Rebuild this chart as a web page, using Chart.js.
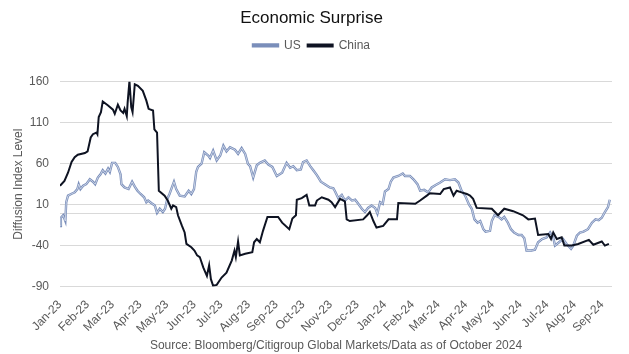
<!DOCTYPE html>
<html>
<head>
<meta charset="utf-8">
<script src="https://cdn.jsdelivr.net/npm/chart.js@4.4.1/dist/chart.umd.min.js"></script>
<style>
  html, body { margin: 0; padding: 0; background: #fff; }
  #wrap { width: 629px; height: 354px; }
</style>
</head>
<body>
<div id="wrap"><canvas id="chart"></canvas></div>
<script>
// month tick labels, first one is Jan 2023
var months = ['Jan-23', 'Feb-23', 'Mar-23', 'Apr-23', 'May-23', 'Jun-23', 'Jul-23', 'Aug-23', 'Sep-23', 'Oct-23',
  'Nov-23', 'Dec-23', 'Jan-24', 'Feb-24', 'Mar-24', 'Apr-24', 'May-24', 'Jun-24', 'Jul-24', 'Aug-24', 'Sep-24'];

// days since 1 Jan 2023
var chinaDay = [0, 5, 9, 13, 16.5, 20, 28, 31, 34.5, 37, 41, 42, 43.5, 46, 48, 54, 59.5, 61.5, 65, 68,
  71, 72.5, 75, 76, 78, 80, 81.5, 84, 87.5, 93, 97, 99.5, 104.5, 106, 109, 111, 117.5, 121, 125, 127,
  130.5, 132.5, 137, 140, 142, 147.5, 151, 154, 157, 161, 165, 167.5, 169.5, 172, 176, 181.5, 187, 193, 196, 197.5,
  200, 202, 208, 216, 218, 221, 224.5, 228, 233, 245, 249.5, 257.5, 261, 265, 266, 271.5, 277, 280, 286.5, 288.5,
  294, 301.5, 305, 309, 314.5, 320, 322, 325.5, 340.5, 345, 348, 352, 355.5, 363, 369, 378.5, 380, 399, 404.5, 412,
  415.5, 427, 431, 438, 442, 445.5, 451, 457, 460.5, 464, 468, 485, 492, 499, 509, 520, 526, 533.5, 537, 548.5,
  551.5, 554, 558, 563.5, 566.5, 575, 582, 594, 599, 608.5, 612, 616.5];
var chinaVal = [33, 39, 49, 62, 68, 71, 73, 75, 92, 96, 98, 96, 117, 123, 136, 131, 126, 121, 132, 125,
  122, 127, 118, 135, 161, 129, 123, 157, 155, 149, 137, 127, 125, 102, 98, 27, 21, 15, 5, 9,
  7, -3, -16, -24, -38, -42, -46, -52, -54, -67, -77, -64, -81, -89, -88, -79, -73, -58, -46, -54,
  -35, -52, -50, -48, -36, -32, -36, -22, -5, -5, -12, -20, -7, -3, 16, 18, 22, 9, 9, 15,
  19, 16, 13, 7, 17, 14, -8, -10, -8, -3, 1, -10, -18, -16, -8, -8, 12, 11, 15, 21,
  24, 23, 29, 31, 21, 27, 25, 23, 21, 17, 6, 5, -3, 5, 2, -3, -8, -7, -27, -26,
  -32, -24, -32, -30, -40, -40, -38, -33, -39, -35, -40, -38];

var usDay = [0, 1, 3.5, 6, 7, 9, 12.5, 16.5, 19.5, 21, 23, 26, 29.5, 33.5, 37, 39.5, 42.5, 45.5, 48, 51,
  54, 56, 58.5, 62, 65, 68, 69, 72.5, 77, 81, 84, 87, 90.5, 94.5, 97, 99, 102.5, 106.5, 109, 112,
  115.5, 118, 120.5, 123, 128, 130.5, 134.5, 140, 144.5, 147.5, 150.5, 153, 155, 159, 162, 166.5, 168.5, 172, 176, 180,
  183.5, 187, 191, 196.5, 200, 204, 208, 211, 213.5, 217, 221, 224.5, 230, 234, 238.5, 243.5, 249.5, 254.5, 258.5, 262,
  266, 270.5, 273, 277, 281, 284.5, 288.5, 293, 297.5, 303, 307, 309, 312.5, 316.5, 320, 324, 328, 331.5, 335, 339,
  342.5, 346, 350, 354, 356.5, 359.5, 362.5, 365, 369, 371.5, 374.5, 380, 385, 387.5, 393, 397, 401.5, 404.5, 409, 413.5,
  417.5, 422, 427, 432.5, 438, 443.5, 447.5, 451, 455, 459.5, 462.5, 465.5, 469, 472, 475.5, 478, 483, 485, 488, 492.5,
  496, 499, 503, 506.5, 510, 515, 518.5, 521.5, 524, 529.5, 533.5, 537, 541.5, 546.5, 550.5, 554, 556, 560.5, 565, 569,
  574, 576.5, 580.5, 584, 588, 593, 597.5, 601.5, 605, 608.5, 612, 615.5, 617.5];
var usVal = [-16, -6, -3, -10, 13, 21, 23, 25, 29, 35, 29, 33, 35, 41, 38, 35, 43, 47, 52, 48,
  54, 50, 61, 61, 56, 47, 35, 31, 29, 38, 32, 27, 23, 19, 13, 15, 12, 9, 0, 5,
  1, 5, 17, 23, 38, 29, 21, 20, 27, 23, 29, 50, 56, 60, 74, 70, 67, 76, 64, 70,
  82, 75, 80, 77, 72, 79, 72, 60, 57, 43, 58, 61, 64, 59, 56, 45, 49, 61, 55, 57,
  52, 53, 62, 64, 57, 52, 46, 38, 35, 31, 30, 26, 18, 22, 15, 19, 15, 16, 11, 5,
  1, 6, 9, 6, -1, 13, 11, 26, 29, 38, 43, 45, 48, 45, 45, 41, 35, 27, 28, 25,
  31, 34, 37, 41, 40, 41, 37, 27, 21, 10, 5, -8, -12, -10, -20, -23, -22, -10, -3, -5,
  -8, -5, -12, -20, -24, -27, -27, -31, -46, -46, -45, -36, -32, -30, -24, -30, -40, -36, -32, -38,
  -44, -40, -28, -24, -23, -20, -12, -8, -9, -6, 1, 7, 16];

var sourceText = 'Source: Bloomberg/Citigroup Global Markets/Data as of October 2024';

var FONT = "'Liberation Sans', Arial, sans-serif";
var GREY = '#595959';
var GRID = '#d9d9d9';

function monthDay(i) {
  return (Date.UTC(2023, i, 1) - Date.UTC(2023, 0, 1)) / 864e5;
}

function pairs(days, vals) {
  return days.map(function (d, i) { return { x: d, y: vals[i] }; });
}

// grey line at zero, Excel style
var zeroLine = {
  id: 'zeroLine',
  beforeDatasetsDraw: function (chart) {
    var y = chart.scales.y.getPixelForValue(0);
    var a = chart.chartArea;
    var ctx = chart.ctx;
    ctx.save();
    ctx.strokeStyle = GRID;
    ctx.lineWidth = 1;
    ctx.beginPath();
    ctx.moveTo(a.left, Math.round(y) + 0.5);
    ctx.lineTo(a.right, Math.round(y) + 0.5);
    ctx.stroke();
    ctx.restore();
  }
};

var sourceNote = {
  id: 'sourceNote',
  afterDraw: function (chart) {
    var a = chart.chartArea;
    var ctx = chart.ctx;
    ctx.save();
    ctx.font = '12px ' + FONT;
    ctx.fillStyle = GREY;
    ctx.textAlign = 'center';
    ctx.textBaseline = 'middle';
    ctx.fillText(sourceText, (a.left + a.right) / 2, chart.height - 8);
    ctx.restore();
  }
};

new Chart(document.getElementById('chart'), {
  type: 'line',
  data: {
    datasets: [{
      label: 'US',
      data: pairs(usDay, usVal),
      borderColor: '#7a8eba',
      backgroundColor: '#8d9bbb',
      borderWidth: 2.4,
      pointRadius: 0,
      tension: 0,
      order: 3
    }, {
      label: 'China',
      data: pairs(chinaDay, chinaVal),
      borderColor: '#0e1322',
      backgroundColor: '#0e1322',
      borderWidth: 2,
      pointRadius: 0,
      tension: 0,
      order: 1
    }, {
      label: 'US-inner',
      data: pairs(usDay, usVal),
      borderColor: '#dbe2ef',
      borderWidth: 0.8,
      pointRadius: 0,
      tension: 0,
      order: 2
    }]
  },
  options: {
    responsive: true,
    maintainAspectRatio: false,
    animation: false,
    layout: { padding: { top: 2, right: 17, bottom: 15, left: 11 } },
    plugins: {
      title: {
        display: true,
        text: 'Economic Surprise',
        color: '#111',
        font: { family: FONT, size: 17, weight: 'normal' },
        padding: { top: 6, bottom: 4 }
      },
      // blank box under the legend to push the plot down
      subtitle: {
        display: true,
        text: ' ',
        font: { family: FONT, size: 12 },
        padding: { top: 0, bottom: 6 }
      },
      legend: {
        position: 'top',
        weight: 1800,
        labels: {
          filter: function (item) { return item.text !== 'US-inner'; },
          sort: function (a, b) { return a.datasetIndex - b.datasetIndex; },
          color: GREY,
          font: { family: FONT, size: 12 },
          boxWidth: 25,
          boxHeight: 2,
          padding: 7
        }
      },
      tooltip: { enabled: false }
    },
    scales: {
      x: {
        type: 'linear',
        min: 0,
        max: 620,
        grid: { display: false },
        border: { display: false },
        afterBuildTicks: function (scale) {
          scale.ticks = months.map(function (m, i) { return { value: monthDay(i) }; });
        },
        ticks: {
          autoSkip: false,
          maxRotation: 45,
          minRotation: 45,
          color: GREY,
          font: { family: FONT, size: 12 },
          callback: function (v, i) { return months[i]; }
        }
      },
      y: {
        min: -90,
        max: 160,
        grid: { color: GRID, drawTicks: false },
        border: { display: false },
        afterFit: function (scale) { scale.width = 49; },
        ticks: {
          stepSize: 50,
          padding: 11,
          color: GREY,
          font: { family: FONT, size: 12 }
        },
        title: {
          display: true,
          text: 'Diffusion Index Level',
          color: GREY,
          font: { family: FONT, size: 12 },
          padding: 0
        }
      }
    }
  },
  plugins: [zeroLine, sourceNote]
});
</script>
</body>
</html>
